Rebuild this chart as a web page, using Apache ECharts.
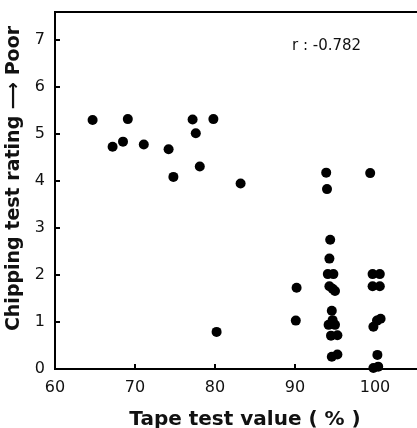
<!DOCTYPE html>
<html>
<head>
<meta charset="utf-8">
<script src="https://cdn.jsdelivr.net/npm/echarts@6/dist/echarts.min.js"></script>
<style>html,body{margin:0;padding:0;background:#fff}#c{width:417px;height:428px}</style>
</head>
<body>
<div id="c"></div>
<script>
// Tape test value (%)
var tapeValues = [
  64.7, 67.2, 68.5, 69.1, 71.1, 74.2, 74.8, 77.2, 77.6, 78.1, 79.8, 83.2,
  80.2, 90.2, 90.1,
  93.9, 94.0, 94.4, 94.3, 94.1, 94.8, 94.3, 94.7, 95.0, 94.6, 94.7, 94.2, 95.0, 94.5, 95.3, 94.6, 95.3,
  99.4, 99.7, 100.6, 99.7, 100.6, 100.25, 100.7, 99.8, 100.3, 99.8, 100.4
];
// Chipping test rating
var chippingRatings = [
  5.30, 4.73, 4.84, 5.32, 4.78, 4.68, 4.09, 5.31, 5.02, 4.31, 5.32, 3.95,
  0.79, 1.73, 1.03,
  4.18, 3.83, 2.75, 2.35, 2.02, 2.02, 1.76, 1.71, 1.66, 1.24, 1.04, 0.94, 0.94, 0.71, 0.72, 0.26, 0.31,
  4.17, 2.02, 2.02, 1.76, 1.76, 1.03, 1.07, 0.90, 0.30, 0.02, 0.05
];
var xTicks = [60, 70, 80, 90, 100];
var yTicks = [0, 1, 2, 3, 4, 5, 6, 7];
var rText = 'r : -0.782';

var points = tapeValues.map(function (v, i) { return [v, chippingRatings[i]]; });
var font = '"DejaVu Sans", "Liberation Sans", Arial, sans-serif';

var chart = echarts.init(document.getElementById('c'), null, {renderer: 'canvas'});
chart.setOption({
  animation: false,
  backgroundColor: '#fff',
  grid: {
    show: true, left: 55, top: 12, width: 368, height: 357,
    outerBoundsMode: 'none', containLabel: false,
    borderColor: '#000', borderWidth: 2, backgroundColor: 'transparent'
  },
  xAxis: {
    type: 'value', min: 60, max: 106, interval: 10,
    name: 'Tape test value ( % )', nameLocation: 'middle', nameGap: 41,
    nameTextStyle: {fontFamily: font, fontSize: 20, fontWeight: 'bold', color: '#111', padding: [0, 0, 0, 12]},
    axisLine: {show: true, lineStyle: {color: '#000', width: 2}},
    axisTick: {show: true, inside: true, length: 5, lineStyle: {color: '#000', width: 2},
      customValues: xTicks},
    axisLabel: {fontFamily: font, fontSize: 16, color: '#111', margin: 11,
      customValues: xTicks},
    splitLine: {show: false}
  },
  yAxis: {
    type: 'value', min: 0, max: 7.6, interval: 1,
    name: 'Chipping test rating ⟶ Poor', nameLocation: 'middle', nameGap: 29,
    nameTextStyle: {fontFamily: font, fontSize: 19, fontWeight: 'bold', color: '#111', padding: [0, 0, 0, 24]},
    axisLine: {show: true, lineStyle: {color: '#000', width: 2}},
    axisTick: {show: true, inside: true, length: 5, lineStyle: {color: '#000', width: 2},
      customValues: yTicks},
    axisLabel: {fontFamily: font, fontSize: 16, color: '#111', margin: 10,
      customValues: yTicks},
    splitLine: {show: false}
  },
  graphic: [{
    type: 'text', left: 292, top: 39,
    style: {text: rText, font: '15px ' + font, fill: '#111'}
  }],
  series: [{
    type: 'scatter',
    data: points,
    symbol: 'circle',
    symbolSize: 10,
    itemStyle: {color: '#000', opacity: 1}
  }]
});
</script>
</body>
</html>
